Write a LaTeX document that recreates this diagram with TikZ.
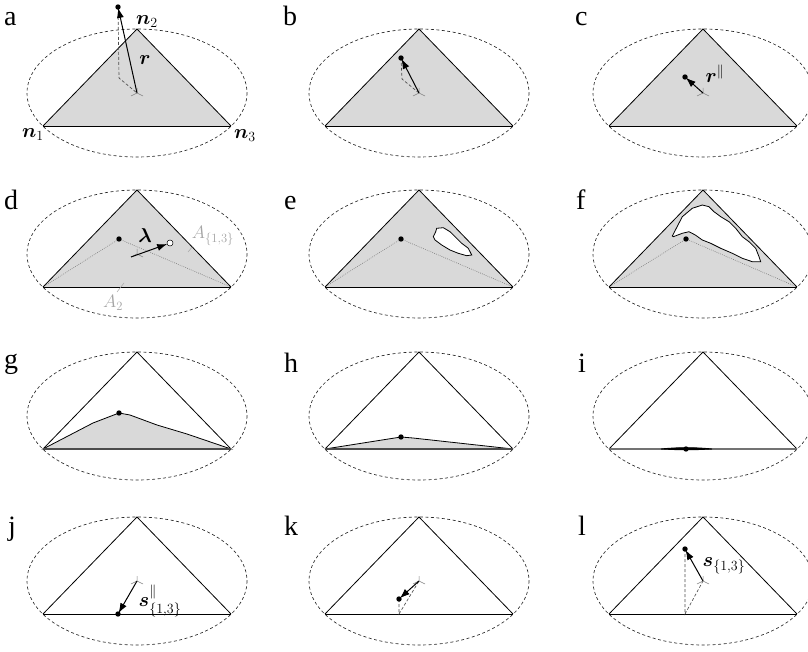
\documentclass[tikz,border=0pt]{standalone}
\usepackage{fix-cm}
\usepackage[no-math]{fontspec}
\newfontfamily\lblfont{Liberation Serif}
\usepackage{amsmath,bm}
\usetikzlibrary{arrows.meta}
\definecolor{gfill}{RGB}{217,217,217}
\definecolor{alabel}{RGB}{165,165,165}
\tikzset{
 tri/.style={line width=0.8pt, line join=miter},
 basel/.style={line width=0.95pt},
 baseg/.style={line width=1.4pt, black!70},
 ell/.style={dash pattern=on 3pt off 2.5pt, line width=0.65pt, black!85},
 dsh/.style={dash pattern=on 3pt off 2pt, line width=0.65pt, black!70},
 dotl/.style={dash pattern=on 0.8pt off 1.2pt, line width=0.6pt, gray},
 vec/.style={-{Latex[length=10pt,width=7pt]}, line width=1pt},
 mlabel/.style={inner sep=0pt, font=\fontsize{20}{24}\selectfont},
 alab/.style={inner sep=0pt, text=alabel, font=\fontsize{18}{22}\selectfont},
 plabel/.style={inner sep=0pt, anchor=base west, font=\lblfont\fontsize{28}{32}\selectfont},
 holeb/.style={fill=white, draw=black, line width=0.8pt},
 origmark/.pic={\draw[gray, line width=0.5pt] (0,0)--(0,-5) (0,0)--(-6,3) (0,0)--(6,3);}
}
\newcommand{\setpanel}[1]{%
  \coordinate (#1n1) at (-94,97);
  \coordinate (#1n2) at (0,0);
  \coordinate (#1n3) at (94,97);
  \coordinate (#1c) at (0,64);}
\newcommand{\frameit}[1]{%
  \draw[tri] (#1n1) -- (#1n2) -- (#1n3);
  \draw[basel] (#1n1) -- (#1n3);
  \draw[ell] (#1c) ellipse [x radius=110, y radius=64];}
\newcommand{\pdot}[1]{\fill (#1) circle[radius=2.7pt];}
\begin{document}
\begin{tikzpicture}[x=1pt,y=-1pt]
\useasboundingbox (0,0) rectangle (808,652);
% panel labels
\node[plabel] (pa) at (4,26) {a};
\node[plabel] (pb) at (283,26) {b};
\node[plabel] (pc) at (575,26) {c};
\node[plabel] (pd) at (4,210) {d};
\node[plabel] (pe) at (284,210) {e};
\node[plabel] (pf) at (576,210) {f};
\node[plabel] (pg) at (4,368) {g};
\node[plabel] (ph) at (284,372) {h};
\node[plabel] (pi) at (578,372) {i};
\node[plabel] (pj) at (8,535) {j};
\node[plabel] (pk) at (284,535) {k};
\node[plabel] (pl) at (578,535) {l};

% ---------- a
\begin{scope}[shift={(137,29)}]
\setpanel{a}
\fill[gfill] (an1)--(an2)--(an3)--cycle;
\frameit{a}
\coordinate (ap) at (-19,-22);
\coordinate (af) at (-18,49);
\draw[dsh] (ap) -- (af) -- (ac);
\pic at (ac) {origmark};
\draw[vec, shorten >=1pt] (ac) -- (ap);
\pdot{ap}
\node[mlabel] (ar) at (8,31) {$\bm{r}$};
\node[mlabel] (an2l) at (10,-7) {$\bm{n}_2$};
\node[mlabel] (an1l) at (-104,106) {$\bm{n}_1$};
\node[mlabel] (an3l) at (108,107) {$\bm{n}_3$};
\end{scope}

% ---------- b
\begin{scope}[shift={(419,29)}]
\setpanel{b}
\fill[gfill] (bn1)--(bn2)--(bn3)--cycle;
\frameit{b}
\coordinate (bp) at (-18,29);
\coordinate (bf) at (-17,50);
\draw[dsh] (bp) -- (bf) -- (bc);
\pic at (bc) {origmark};
\draw[vec, shorten >=1pt] (bc) -- (bp);
\pdot{bp}
\end{scope}

% ---------- c
\begin{scope}[shift={(703,29)}]
\setpanel{c}
\fill[gfill] (cn1)--(cn2)--(cn3)--cycle;
\frameit{c}
\coordinate (cp) at (-18,48);
\pic at (cc) {origmark};
\draw[vec, shorten >=1pt] (cc) -- (cp);
\pdot{cp}
\node[mlabel] (crl) at (12,45) {$\bm{r}^{\parallel}$};
\end{scope}

% ---------- d
\begin{scope}[shift={(137,190)}]
\setpanel{d}
\fill[gfill] (dn1)--(dn2)--(dn3)--cycle;
\coordinate (dp) at (-18,49);
\draw[dotl] (dn1) -- (dp) -- (dn3);
\frameit{d}
\pic at (dc) {origmark};
\coordinate (ds) at (-6,67);
\coordinate (dw) at (33,53);
\draw[vec, shorten >=3pt] (ds) -- (dw);
\draw[fill=white, line width=0.5pt] (dw) circle[radius=3pt];
\pdot{dp}
\node[mlabel] (dlam) at (8,46) {$\bm{\lambda}$};
\node[alab] (dA13) at (76,46) {$A_{\{1,3\}}$};
\draw[alabel, line width=0.5pt] (51,62) -- (56,56);
\node[alab] (dA2) at (-24,113) {$A_2$};
\draw[alabel, line width=0.5pt] (-13,93) -- (-20,102);
\end{scope}

% ---------- e
\begin{scope}[shift={(419,190)}]
\setpanel{e}
\fill[gfill] (en1)--(en2)--(en3)--cycle;
\coordinate (ep) at (-18,49);
\draw[dotl] (en1) -- (ep) -- (en3);
\draw[holeb] (17.7,38.3) -- (24.3,37.7) -- (31,41.7) -- (37.7,48.3) -- (42.7,53.3) -- (49.3,58.3) -- (52.7,65) -- (47.7,65.7) -- (39.3,63.3) -- (31,60) -- (22.7,55) -- (16,50) -- (14.3,46.7) -- (16.7,41.7) -- cycle;
\frameit{e}
\pdot{ep}
\end{scope}

% ---------- f
\begin{scope}[shift={(703,190)}]
\setpanel{f}
\fill[gfill] (fn1)--(fn2)--(fn3)--cycle;
\coordinate (fp) at (-17,49);
\draw[dotl] (fn1) -- (fp) -- (fn3);
\draw[holeb] (-30.7,46) -- (-20.7,26.7) -- (-10.7,18.3) -- (-0.7,15) -- (6,16.7) -- (11,21.7) -- (17.7,26.7) -- (26,31.7) -- (32.7,38.3) -- (39.3,46.7) -- (46,51.7) -- (52.7,58.3) -- (56,66.7) -- (57.7,71.7) -- (49.3,71.7) -- (39.3,68.3) -- (29.3,63.3) -- (17.7,58.3) -- (7.7,53.3) -- (-0.7,50) -- (-7.7,45) -- (-14,41.7) -- (-20.7,43.3) -- (-29.7,46.7) -- cycle;
\frameit{f}
\pdot{fp}
\end{scope}

% ---------- g
\begin{scope}[shift={(137,352)}]
\setpanel{g}
\coordinate (gp) at (-18,61);
\draw[fill=gfill, line width=0.8pt] (gn1) -- (-44,71) -- (gp) -- (-7,63) -- (20,73) -- (50,82) -- (gn3) -- cycle;
\draw[tri] (gn1) -- (gn2) -- (gn3);
\draw[baseg] (gn1) -- (gn3);
\draw[ell] (gc) ellipse [x radius=110, y radius=64];
\pdot{gp}
\end{scope}

% ---------- h
\begin{scope}[shift={(419,352)}]
\setpanel{h}
\coordinate (hp) at (-18,85);
\draw[fill=gfill, line width=0.8pt] (hn1) -- (hp) -- (-6,86) -- (hn3) -- cycle;
\draw[tri] (hn1) -- (hn2) -- (hn3);
\draw[baseg] (hn1) -- (hn3);
\draw[ell] (hc) ellipse [x radius=110, y radius=64];
\pdot{hp}
\end{scope}

% ---------- i
\begin{scope}[shift={(703,352)}]
\setpanel{i}
\coordinate (ip) at (-17,97);
\draw[tri] (in1) -- (in2) -- (in3);
\draw[line width=1.4pt, black!55] (in1) -- (in3);
\fill (-42,97.3) .. controls (-25,95) and (-8,95) .. (9,97.3) .. controls (-8,98.5) and (-25,98.5) .. cycle;
\draw[line width=0.9pt] (-42,97) .. controls (-25,95.3) and (-8,95.3) .. (9,97);
\draw[ell] (ic) ellipse [x radius=110, y radius=64];
\pdot{ip}
\end{scope}

% ---------- j
\begin{scope}[shift={(137,517)}]
\setpanel{j}
\frameit{j}
\coordinate (jp) at (-19,97);
\pic at (jc) {origmark};
\draw[vec, shorten >=1pt] (jc) -- (jp);
\pdot{jp}
\node[mlabel] (jsl) at (23,84) {$\bm{s}^{\parallel}_{\{1,3\}}$};
\end{scope}

% ---------- k
\begin{scope}[shift={(419,517)}]
\setpanel{k}
\frameit{k}
\coordinate (kp) at (-20,82);
\coordinate (kf) at (-20,97);
\draw[dsh] (kp) -- (kf) -- (kc);
\pic at (kc) {origmark};
\draw[vec, shorten >=1pt] (kc) -- (kp);
\pdot{kp}
\end{scope}

% ---------- l
\begin{scope}[shift={(703,517)}]
\setpanel{l}
\frameit{l}
\coordinate (lp) at (-18,32);
\coordinate (lf) at (-18,97);
\draw[dsh] (lp) -- (lf) -- (lc);
\pic at (lc) {origmark};
\draw[vec, shorten >=1pt] (lc) -- (lp);
\pdot{lp}
\node[mlabel] (lsl) at (21,49) {$\bm{s}_{\{1,3\}}$};
\end{scope}
\end{tikzpicture}
\end{document}
